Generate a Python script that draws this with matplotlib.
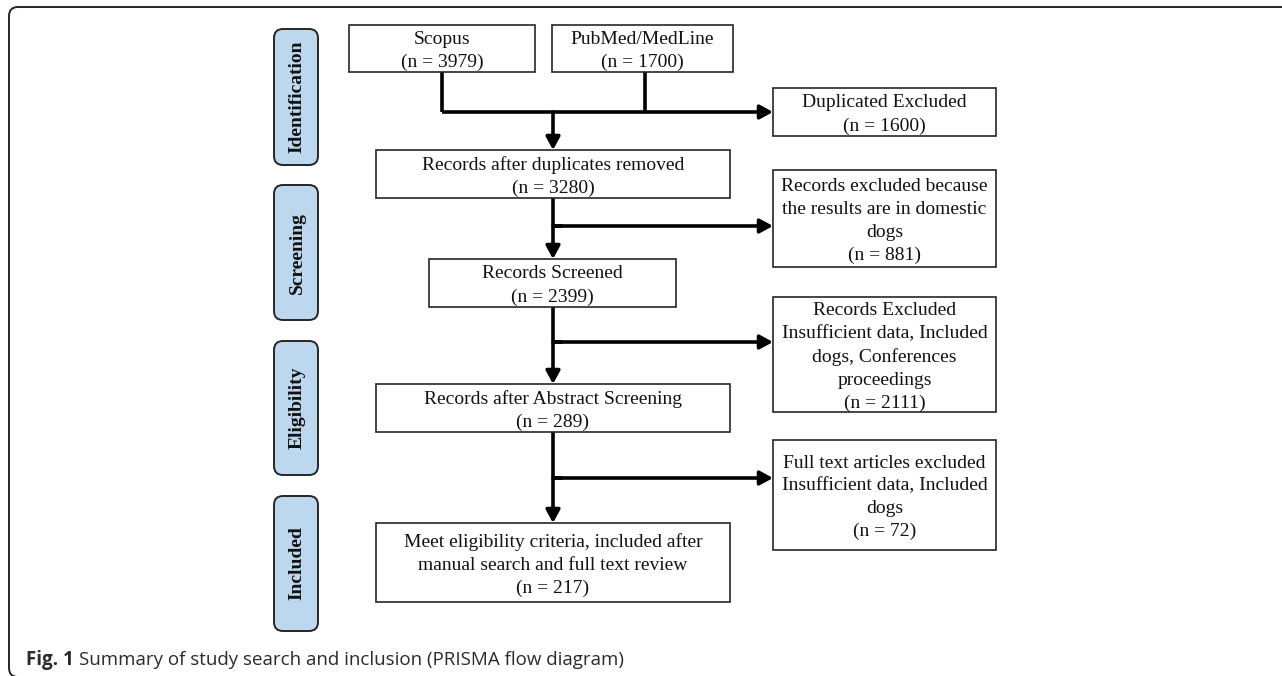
import matplotlib

matplotlib.use("Agg")

import matplotlib.pyplot as plt  # noqa: E402
from matplotlib.patches import FancyBboxPatch, Rectangle  # noqa: E402

# ---- data ----
stages = ["Identification", "Screening", "Eligibility", "Included"]

source_labels = ["Scopus", "PubMed/MedLine"]
source_counts = [3979, 1700]

main_labels = [
    "Records after duplicates removed",
    "Records Screened",
    "Records after Abstract Screening",
    "Meet eligibility criteria, included after\nmanual search and full text review",
]
main_counts = [3280, 2399, 289, 217]

excluded_labels = [
    "Duplicated Excluded",
    "Records excluded because\nthe results are in domestic\ndogs",
    "Records Excluded\nInsufficient data, Included\ndogs, Conferences\nproceedings",
    "Full text articles excluded\nInsufficient data, Included\ndogs",
]
excluded_counts = [1600, 881, 2111, 72]

caption_bold = "Fig. 1"
caption_text = "Summary of study search and inclusion (PRISMA flow diagram)"

# ---- layout (pixel coords, y down) ----
W, H = 1282, 676
PILL_FILL = "#BDD7EE"
EDGE = "#262626"
TXT = "#111111"
SERIF = "Liberation Serif"

stage_y = [(29, 165), (185, 320), (341, 475), (496, 631)]
source_x = [(349, 535), (552, 733)]
source_y = (25, 72)
main_x = [(376, 730), (429, 676), (376, 730), (376, 730)]
main_y = [(150, 198), (259, 307), (384, 432), (523, 602)]
excl_x = (773, 996)
excl_y = [(88, 136), (170, 267), (297, 412), (440, 550)]
branch_y = [112, 226, 342, 478]
src_cx = [442, 645]
cx = 553

fig = plt.figure(figsize=(W / 100, H / 100), dpi=100)
fig.patch.set_facecolor("white")
ax = fig.add_axes([0, 0, 1, 1])
ax.set_xlim(0, W)
ax.set_ylim(H, 0)
ax.axis("off")

# outer frame (rounded, runs off the right/bottom edge)
ax.add_patch(FancyBboxPatch((9, 7), 1400, 670,
                            boxstyle="round,pad=0,rounding_size=9",
                            fc="none", ec=EDGE, lw=1.4))


def box(x0, x1, y0, y1, text, ls=1.45):
    ax.add_patch(Rectangle((x0, y0), x1 - x0, y1 - y0, fc="white", ec=EDGE, lw=1.2, zorder=2))
    ax.text((x0 + x1) / 2, (y0 + y1) / 2 + 2.5, text, ha="center", va="center",
            fontsize=14, family=SERIF, color=TXT, linespacing=ls, zorder=3)


def line(xs, ys):
    ax.plot(xs, ys, color="black", lw=2.6, solid_capstyle="butt", zorder=1)


def arrow(x0, y0, x1, y1):
    ax.annotate("", xy=(x1, y1), xytext=(x0, y0),
                arrowprops=dict(arrowstyle="-|>,head_length=0.55,head_width=0.3",
                                color="black", lw=2.6, shrinkA=0, shrinkB=0,
                                mutation_scale=14), zorder=1)


# stage pills
for name, (y0, y1) in zip(stages, stage_y):
    ax.add_patch(FancyBboxPatch((274, y0), 44, y1 - y0,
                                boxstyle="round,pad=0,rounding_size=9",
                                fc=PILL_FILL, ec=EDGE, lw=1.4))
    ax.text(297, (y0 + y1) / 2, name, rotation=90, ha="center", va="center",
            fontsize=14, fontweight="bold", family=SERIF, color=TXT)

# source boxes
for lab, n, (x0, x1) in zip(source_labels, source_counts, source_x):
    box(x0, x1, source_y[0], source_y[1], f"{lab}\n(n = {n})")

# main boxes
for lab, n, (x0, x1), (y0, y1) in zip(main_labels, main_counts, main_x, main_y):
    box(x0, x1, y0, y1, f"{lab}\n(n = {n})")

# excluded boxes
for lab, n, (y0, y1) in zip(excluded_labels, excluded_counts, excl_y):
    box(excl_x[0], excl_x[1], y0, y1, f"{lab}\n(n = {n})")

# connectors: sources merge
for sx in src_cx:
    line([sx, sx], [source_y[1], branch_y[0]])
line([src_cx[0], src_cx[1]], [branch_y[0], branch_y[0]])
arrow(src_cx[1], branch_y[0], excl_x[0], branch_y[0])
arrow(cx, branch_y[0], cx, main_y[0][0])

# main column with side branches
for i in range(1, 4):
    arrow(cx, main_y[i - 1][1], cx, main_y[i][0])
    line([cx - 1.3, cx + 10], [branch_y[i], branch_y[i]])
    arrow(cx, branch_y[i], excl_x[0], branch_y[i])

# caption
cap_y = 660
t = ax.text(26, cap_y, caption_bold, ha="left", va="center", fontsize=13.5,
            fontweight="bold", family="Open Sans", color="#2b2b2b")
fig.canvas.draw()
bb = t.get_window_extent()
x_next = ax.transData.inverted().transform((bb.x1, bb.y0))[0] + 5
ax.text(x_next, cap_y, caption_text, ha="left", va="center", fontsize=13.5,
        family="Open Sans", color="#2b2b2b")

fig.savefig("out.png", dpi=100, facecolor="white")
plt.close(fig)
